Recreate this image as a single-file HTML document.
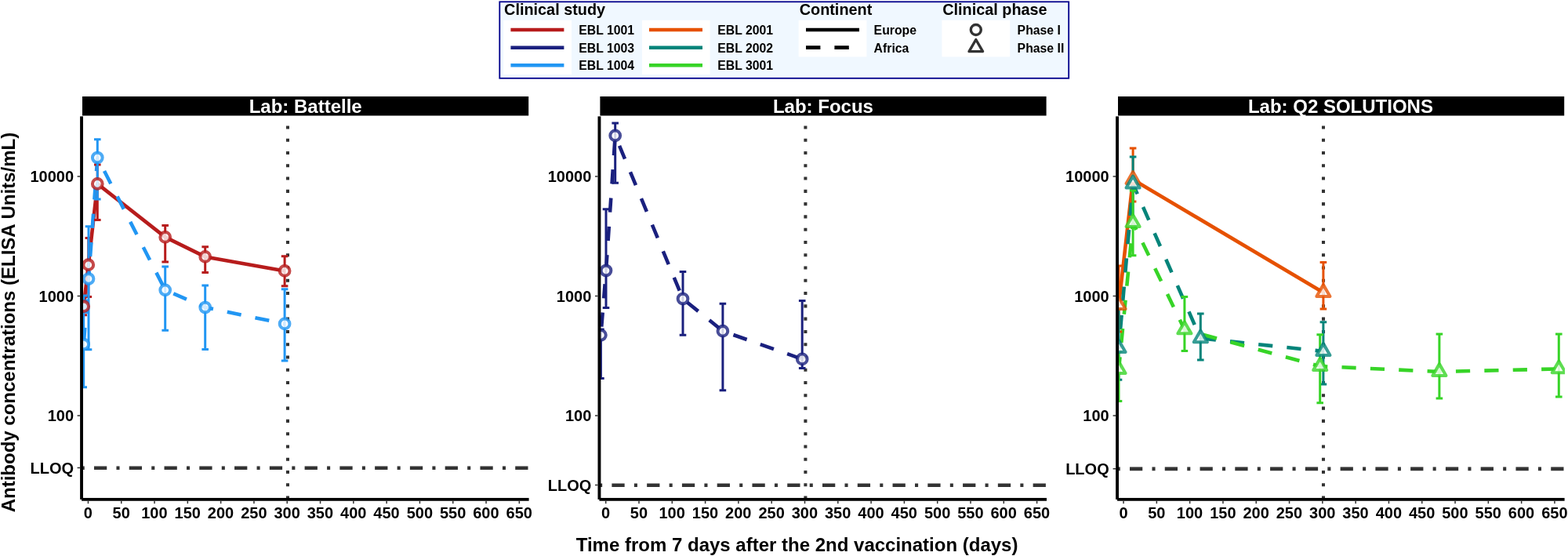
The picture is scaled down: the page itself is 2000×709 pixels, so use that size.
<!DOCTYPE html>
<html lang="en">
<head>
<meta charset="utf-8">
<title>Antibody concentrations by lab</title>
<style>
html,body{margin:0;padding:0;background:#fff;}
body{width:2000px;height:709px;overflow:hidden;}
svg{display:block;}
text{font-family:"Liberation Sans", Arial, Helvetica, sans-serif;font-weight:bold;fill:#000;}
.tick{font-size:20px;}
.title{font-size:24px;}
.strip{font-size:24px;fill:#fff;}
.lt{font-size:19.85px;}
.ll{font-size:15.8px;}
</style>
</head>
<body>
<svg width="2000" height="709" viewBox="0 0 2000 709">
<rect x="0" y="0" width="2000" height="709" fill="#fff"/>
<defs>
<clipPath id="cp0"><rect x="103" y="148.4" width="572" height="488.9"/></clipPath>
<clipPath id="cp1"><rect x="763.4" y="148.4" width="572" height="488.9"/></clipPath>
<clipPath id="cp2"><rect x="1424" y="148.4" width="572" height="488.9"/></clipPath>
</defs>
<g id="legend">
<rect x="637.3" y="2.3" width="725.9" height="97.5" fill="#F0F8FF" stroke="#00008B" stroke-width="1.8"/>
<text class="lt" x="643.1" y="19.1">Clinical study</text>
<text class="lt" x="1019.7" y="19.1">Continent</text>
<text class="lt" x="1202.2" y="19.1">Clinical phase</text>
<rect x="642.2" y="25.8" width="86.8" height="69.3" fill="#fff"/>
<rect x="819" y="25.8" width="86.6" height="69.3" fill="#fff"/>
<rect x="1018.6" y="25.8" width="86.8" height="46.6" fill="#fff"/>
<rect x="1201.4" y="25.8" width="86.8" height="46.6" fill="#fff"/>
<line x1="651.4" y1="38" x2="719.4" y2="38" stroke="#B71C1C" stroke-width="4.6"/>
<text class="ll" x="738.2" y="43.9">EBL 1001</text>
<line x1="651.4" y1="60.7" x2="719.4" y2="60.7" stroke="#1A207E" stroke-width="4.6"/>
<text class="ll" x="738.2" y="66.6">EBL 1003</text>
<line x1="651.4" y1="83.2" x2="719.4" y2="83.2" stroke="#2196F3" stroke-width="4.6"/>
<text class="ll" x="738.2" y="89.1">EBL 1004</text>
<line x1="828" y1="38" x2="896" y2="38" stroke="#E65100" stroke-width="4.6"/>
<text class="ll" x="915.2" y="43.9">EBL 2001</text>
<line x1="828" y1="60.7" x2="896" y2="60.7" stroke="#04847A" stroke-width="4.6"/>
<text class="ll" x="915.2" y="66.6">EBL 2002</text>
<line x1="828" y1="83.2" x2="896" y2="83.2" stroke="#37D427" stroke-width="4.6"/>
<text class="ll" x="915.2" y="89.1">EBL 3001</text>
<line x1="1028" y1="38" x2="1096" y2="38" stroke="#000" stroke-width="4.6"/>
<line x1="1028" y1="60.6" x2="1096" y2="60.6" stroke="#000" stroke-width="4.6" stroke-dasharray="18.4 18"/>
<text class="ll" x="1114.6" y="43.9">Europe</text>
<text class="ll" x="1114.6" y="66.6">Africa</text>
<circle cx="1244.8" cy="38" r="6.5" fill="#fff" stroke="#333" stroke-width="3.4"/>
<path d="M1244.8 50.49 L1253.55 65.65 L1236.05 65.65 Z" fill="#fff" stroke="#333" stroke-width="3.4" stroke-linejoin="round"/>
<text class="ll" x="1297.6" y="43.9">Phase I</text>
<text class="ll" x="1297.6" y="66.6">Phase II</text>
</g>
<g id="panel1">
<rect x="105" y="123" width="569.2" height="24.5" fill="#000"/>
<text class="strip" x="389.7" y="144.2" text-anchor="middle">Lab: Battelle</text>
<g clip-path="url(#cp0)">
<line x1="367" y1="636.6" x2="367" y2="148.4" stroke="#333" stroke-width="4.07" stroke-dasharray="4.07 12.21"/>
<line x1="103.7" y1="596.8" x2="675" y2="596.8" stroke="#333" stroke-width="4.57" stroke-dasharray="4.07 12.21 16.28 12.21"/>
<path d="M106.7 390.7 L112.8 337.7 L124.3 234.4 L210.7 302.4 L261.7 327.4 L363.1 345.4" fill="none" stroke="#B71C1C" stroke-width="4.6" stroke-linejoin="round"/>
<g fill="none" stroke="#2196F3" stroke-width="4.6" stroke-dasharray="18.2 18.2">
<path d="M106.7 439 L113 355.5" stroke-dashoffset="33.4"/>
<path d="M113 355.5 L124.3 201" stroke-dashoffset="7.94"/>
<path d="M124.3 201 L210.7 369.8" stroke-dashoffset="17.25"/>
<path d="M210.7 369.8 L261.7 392" stroke-dashoffset="24.88"/>
<path d="M261.7 392 L363.1 412.9" stroke-dashoffset="7.7"/>
</g>
<path d="M102.4 378.7H111M106.7 378.7V401.7M102.4 401.7H111M108.5 303.4H117.1M112.8 303.4V378.5M108.5 378.5H117.1M120 210H128.6M124.3 210V280.4M120 280.4H128.6M206.4 287.4H215M210.7 287.4V334M206.4 334H215M257.4 314.8H266M261.7 314.8V347.6M257.4 347.6H266M358.8 326.8H367.4M363.1 326.8V364.8M358.8 364.8H367.4" fill="none" stroke="#B71C1C" stroke-width="3"/>
<path d="M102.4 377H111M106.7 377V493.8M102.4 493.8H111M108.7 288.8H117.3M113 288.8V445.8M108.7 445.8H117.3M120 177.8H128.6M124.3 177.8V254M120 254H128.6M206.4 340H215M210.7 340V421.2M206.4 421.2H215M257.4 364H266M261.7 364V445.4M257.4 445.4H266M358.8 368.8H367.4M363.1 368.8V460M358.8 460H367.4" fill="none" stroke="#2196F3" stroke-width="3"/>
<g fill="#fff" fill-opacity="0.8" stroke="#B71C1C" stroke-opacity="0.8" stroke-width="4.05" stroke-linejoin="round">
<circle cx="106.7" cy="390.7" r="6.35"/>
<circle cx="112.8" cy="337.7" r="6.35"/>
<circle cx="124.3" cy="234.4" r="6.35"/>
<circle cx="210.7" cy="302.4" r="6.35"/>
<circle cx="261.7" cy="327.4" r="6.35"/>
<circle cx="363.1" cy="345.4" r="6.35"/>
</g>
<g fill="#fff" fill-opacity="0.8" stroke="#2196F3" stroke-opacity="0.8" stroke-width="4.05" stroke-linejoin="round">
<circle cx="106.7" cy="439" r="6.35"/>
<circle cx="113" cy="355.5" r="6.35"/>
<circle cx="124.3" cy="201" r="6.35"/>
<circle cx="210.7" cy="369.8" r="6.35"/>
<circle cx="261.7" cy="392" r="6.35"/>
<circle cx="363.1" cy="412.9" r="6.35"/>
</g>
</g>
<rect x="102.1" y="148.4" width="3.9" height="488.45" fill="#000"/>
<rect x="104.05" y="634.95" width="570.55" height="3.8" fill="#000"/>
<path d="M98.6 225H102.1M98.6 377.5H102.1M98.6 530H102.1M98.6 596.6H102.1M112.45 638.75V642.35M154.75 638.75V642.35M197.05 638.75V642.35M239.35 638.75V642.35M281.65 638.75V642.35M323.95 638.75V642.35M366.25 638.75V642.35M408.55 638.75V642.35M450.85 638.75V642.35M493.15 638.75V642.35M535.45 638.75V642.35M577.75 638.75V642.35M620.05 638.75V642.35M662.35 638.75V642.35" fill="none" stroke="#333" stroke-width="1.5"/>
<text class="tick" x="94.1" y="232" text-anchor="end">10000</text>
<text class="tick" x="94.1" y="384.5" text-anchor="end">1000</text>
<text class="tick" x="94.1" y="537" text-anchor="end">100</text>
<text class="tick" x="94.1" y="603.6" text-anchor="end">LLOQ</text>
<text class="tick" x="112.35" y="661.4" text-anchor="middle">0</text>
<text class="tick" x="154.65" y="661.4" text-anchor="middle">50</text>
<text class="tick" x="196.95" y="661.4" text-anchor="middle">100</text>
<text class="tick" x="239.25" y="661.4" text-anchor="middle">150</text>
<text class="tick" x="281.55" y="661.4" text-anchor="middle">200</text>
<text class="tick" x="323.85" y="661.4" text-anchor="middle">250</text>
<text class="tick" x="366.15" y="661.4" text-anchor="middle">300</text>
<text class="tick" x="408.45" y="661.4" text-anchor="middle">350</text>
<text class="tick" x="450.75" y="661.4" text-anchor="middle">400</text>
<text class="tick" x="493.05" y="661.4" text-anchor="middle">450</text>
<text class="tick" x="535.35" y="661.4" text-anchor="middle">500</text>
<text class="tick" x="577.65" y="661.4" text-anchor="middle">550</text>
<text class="tick" x="619.95" y="661.4" text-anchor="middle">600</text>
<text class="tick" x="662.25" y="661.4" text-anchor="middle">650</text>
</g>
<g id="panel2">
<rect x="765.4" y="123" width="569.2" height="24.5" fill="#000"/>
<text class="strip" x="1049.95" y="144.2" text-anchor="middle">Lab: Focus</text>
<g clip-path="url(#cp1)">
<line x1="1027.4" y1="636.6" x2="1027.4" y2="148.4" stroke="#333" stroke-width="4.07" stroke-dasharray="4.07 12.21"/>
<line x1="764.1" y1="618.8" x2="1335.4" y2="618.8" stroke="#333" stroke-width="4.57" stroke-dasharray="4.07 12.21 16.28 12.21"/>
<g fill="none" stroke="#1A207E" stroke-width="4.6" stroke-dasharray="18.2 18.2">
<path d="M766.4 427.3 L773 345" stroke-dashoffset="25.7"/>
<path d="M773 345 L784.7 172.9" stroke-dashoffset="34.71"/>
<path d="M784.7 172.9 L871 381" stroke-dashoffset="22.46"/>
<path d="M871 381 L921.9 422.2" stroke-dashoffset="29.35"/>
<path d="M921.9 422.2 L1023.2 457.9" stroke-dashoffset="22.03"/>
</g>
<path d="M762.1 420H770.7M766.4 420V482.4M762.1 482.4H770.7M768.7 266.8H777.3M773 266.8V392.4M768.7 392.4H777.3M780.4 157H789M784.7 157V233.2M780.4 233.2H789M866.7 346.4H875.3M871 346.4V427.3M866.7 427.3H875.3M917.6 387.3H926.2M921.9 387.3V497.7M917.6 497.7H926.2M1018.9 383.4H1027.5M1023.2 383.4V469.5M1018.9 469.5H1027.5" fill="none" stroke="#1A207E" stroke-width="3"/>
<g fill="#fff" fill-opacity="0.8" stroke="#1A207E" stroke-opacity="0.8" stroke-width="4.05" stroke-linejoin="round">
<circle cx="766.4" cy="427.3" r="6.35"/>
<circle cx="773" cy="345" r="6.35"/>
<circle cx="784.7" cy="172.9" r="6.35"/>
<circle cx="871" cy="381" r="6.35"/>
<circle cx="921.9" cy="422.2" r="6.35"/>
<circle cx="1023.2" cy="457.9" r="6.35"/>
</g>
</g>
<rect x="762.5" y="148.4" width="3.9" height="488.45" fill="#000"/>
<rect x="764.45" y="634.95" width="570.55" height="3.8" fill="#000"/>
<path d="M759 225H762.5M759 377.5H762.5M759 530H762.5M759 618.6H762.5M772.7 638.75V642.35M815 638.75V642.35M857.3 638.75V642.35M899.6 638.75V642.35M941.9 638.75V642.35M984.2 638.75V642.35M1026.5 638.75V642.35M1068.8 638.75V642.35M1111.1 638.75V642.35M1153.4 638.75V642.35M1195.7 638.75V642.35M1238 638.75V642.35M1280.3 638.75V642.35M1322.6 638.75V642.35" fill="none" stroke="#333" stroke-width="1.5"/>
<text class="tick" x="754.35" y="232" text-anchor="end">10000</text>
<text class="tick" x="754.35" y="384.5" text-anchor="end">1000</text>
<text class="tick" x="754.35" y="537" text-anchor="end">100</text>
<text class="tick" x="754.35" y="625.6" text-anchor="end">LLOQ</text>
<text class="tick" x="772.6" y="661.4" text-anchor="middle">0</text>
<text class="tick" x="814.9" y="661.4" text-anchor="middle">50</text>
<text class="tick" x="857.2" y="661.4" text-anchor="middle">100</text>
<text class="tick" x="899.5" y="661.4" text-anchor="middle">150</text>
<text class="tick" x="941.8" y="661.4" text-anchor="middle">200</text>
<text class="tick" x="984.1" y="661.4" text-anchor="middle">250</text>
<text class="tick" x="1026.4" y="661.4" text-anchor="middle">300</text>
<text class="tick" x="1068.7" y="661.4" text-anchor="middle">350</text>
<text class="tick" x="1111" y="661.4" text-anchor="middle">400</text>
<text class="tick" x="1153.3" y="661.4" text-anchor="middle">450</text>
<text class="tick" x="1195.6" y="661.4" text-anchor="middle">500</text>
<text class="tick" x="1237.9" y="661.4" text-anchor="middle">550</text>
<text class="tick" x="1280.2" y="661.4" text-anchor="middle">600</text>
<text class="tick" x="1322.5" y="661.4" text-anchor="middle">650</text>
</g>
<g id="panel3">
<rect x="1426" y="123" width="569.2" height="24.5" fill="#000"/>
<text class="strip" x="1709.9" y="144.2" text-anchor="middle">Lab: Q2 SOLUTIONS</text>
<g clip-path="url(#cp2)">
<line x1="1688" y1="636.6" x2="1688" y2="148.4" stroke="#333" stroke-width="4.07" stroke-dasharray="4.07 12.21"/>
<line x1="1424.7" y1="597.9" x2="1996" y2="597.9" stroke="#333" stroke-width="4.57" stroke-dasharray="4.07 12.21 16.28 12.21"/>
<path d="M1427 389 L1445.1 229 L1687.9 373" fill="none" stroke="#E65100" stroke-width="4.6" stroke-linejoin="round"/>
<g fill="none" stroke="#04847A" stroke-width="4.6" stroke-dasharray="18.2 18.2">
<path d="M1427 444 L1445.1 234.5" stroke-dashoffset="12.3"/>
<path d="M1445.1 234.5 L1531.3 431.4" stroke-dashoffset="4.18"/>
<path d="M1531.3 431.4 L1687.9 448" stroke-dashoffset="34.92"/>
</g>
<g fill="none" stroke="#37D427" stroke-width="4.6" stroke-dasharray="18.2 18.2">
<path d="M1427 471 L1445.1 284" stroke-dashoffset="2.3"/>
<path d="M1445.1 284 L1510.9 420.4" stroke-dashoffset="8.17"/>
<path d="M1510.9 420.4 L1683.7 467" stroke-dashoffset="12.02"/>
<path d="M1683.7 467 L1835.9 474" stroke-dashoffset="8.59"/>
<path d="M1835.9 474 L1988.3 470.4" stroke-dashoffset="15.35"/>
</g>
<path d="M1422.7 339H1431.3M1427 339V423M1422.7 423H1431.3M1440.8 189H1449.4M1445.1 189V257M1440.8 257H1449.4M1683.6 334.4H1692.2M1687.9 334.4V394M1683.6 394H1692.2" fill="none" stroke="#E65100" stroke-width="3"/>
<path d="M1422.7 393.4H1431.3M1427 393.4V484.2M1422.7 484.2H1431.3M1440.8 200H1449.4M1445.1 200V288M1440.8 288H1449.4M1527 400H1535.6M1531.3 400V459M1527 459H1535.6M1683.6 410.8H1692.2M1687.9 410.8V490M1683.6 490H1692.2" fill="none" stroke="#04847A" stroke-width="3"/>
<path d="M1422.7 448H1431.3M1427 448V511.4M1422.7 511.4H1431.3M1440.8 243H1449.4M1445.1 243V325.8M1440.8 325.8H1449.4M1506.6 378.4H1515.2M1510.9 378.4V447.4M1506.6 447.4H1515.2M1679.4 426.8H1688M1683.7 426.8V513.8M1679.4 513.8H1688M1831.6 426H1840.2M1835.9 426V507.9M1831.6 507.9H1840.2M1984 426H1992.6M1988.3 426V505.9M1984 505.9H1992.6" fill="none" stroke="#37D427" stroke-width="3"/>
<g fill="#fff" fill-opacity="0.8" stroke="#E65100" stroke-opacity="0.8" stroke-width="4.05" stroke-linejoin="round">
<path d="M1427 379.13 L1435.55 393.94 L1418.45 393.94 Z"/>
<path d="M1445.1 219.13 L1453.65 233.94 L1436.55 233.94 Z"/>
<path d="M1687.9 363.13 L1696.45 377.94 L1679.35 377.94 Z"/>
</g>
<g fill="#fff" fill-opacity="0.8" stroke="#04847A" stroke-opacity="0.8" stroke-width="4.05" stroke-linejoin="round">
<path d="M1427 434.13 L1435.55 448.94 L1418.45 448.94 Z"/>
<path d="M1445.1 224.63 L1453.65 239.44 L1436.55 239.44 Z"/>
<path d="M1531.3 421.53 L1539.85 436.34 L1522.75 436.34 Z"/>
<path d="M1687.9 438.13 L1696.45 452.94 L1679.35 452.94 Z"/>
</g>
<g fill="#fff" fill-opacity="0.8" stroke="#37D427" stroke-opacity="0.8" stroke-width="4.05" stroke-linejoin="round">
<path d="M1427 461.13 L1435.55 475.94 L1418.45 475.94 Z"/>
<path d="M1445.1 274.13 L1453.65 288.94 L1436.55 288.94 Z"/>
<path d="M1510.9 410.53 L1519.45 425.34 L1502.35 425.34 Z"/>
<path d="M1683.7 457.13 L1692.25 471.94 L1675.15 471.94 Z"/>
<path d="M1835.9 464.13 L1844.45 478.94 L1827.35 478.94 Z"/>
<path d="M1988.3 460.53 L1996.85 475.34 L1979.75 475.34 Z"/>
</g>
</g>
<rect x="1423.1" y="148.4" width="3.9" height="488.45" fill="#000"/>
<rect x="1425.05" y="634.95" width="570.55" height="3.8" fill="#000"/>
<path d="M1419.6 225H1423.1M1419.6 377.5H1423.1M1419.6 530H1423.1M1419.6 597.7H1423.1M1433.05 638.75V642.35M1475.35 638.75V642.35M1517.65 638.75V642.35M1559.95 638.75V642.35M1602.25 638.75V642.35M1644.55 638.75V642.35M1686.85 638.75V642.35M1729.15 638.75V642.35M1771.45 638.75V642.35M1813.75 638.75V642.35M1856.05 638.75V642.35M1898.35 638.75V642.35M1940.65 638.75V642.35M1982.95 638.75V642.35" fill="none" stroke="#333" stroke-width="1.5"/>
<text class="tick" x="1414.7" y="232" text-anchor="end">10000</text>
<text class="tick" x="1414.7" y="384.5" text-anchor="end">1000</text>
<text class="tick" x="1414.7" y="537" text-anchor="end">100</text>
<text class="tick" x="1414.7" y="604.7" text-anchor="end">LLOQ</text>
<text class="tick" x="1432.95" y="661.4" text-anchor="middle">0</text>
<text class="tick" x="1475.25" y="661.4" text-anchor="middle">50</text>
<text class="tick" x="1517.55" y="661.4" text-anchor="middle">100</text>
<text class="tick" x="1559.85" y="661.4" text-anchor="middle">150</text>
<text class="tick" x="1602.15" y="661.4" text-anchor="middle">200</text>
<text class="tick" x="1644.45" y="661.4" text-anchor="middle">250</text>
<text class="tick" x="1686.75" y="661.4" text-anchor="middle">300</text>
<text class="tick" x="1729.05" y="661.4" text-anchor="middle">350</text>
<text class="tick" x="1771.35" y="661.4" text-anchor="middle">400</text>
<text class="tick" x="1813.65" y="661.4" text-anchor="middle">450</text>
<text class="tick" x="1855.95" y="661.4" text-anchor="middle">500</text>
<text class="tick" x="1898.25" y="661.4" text-anchor="middle">550</text>
<text class="tick" x="1940.55" y="661.4" text-anchor="middle">600</text>
<text class="tick" x="1982.85" y="661.4" text-anchor="middle">650</text>
</g>
<text class="title" x="1016.6" y="703.1" text-anchor="middle">Time from 7 days after the 2nd vaccination (days)</text>
<text class="title" transform="translate(19.3 411.1) rotate(-90)" text-anchor="middle">Antibody concentrations (ELISA Units/mL)</text>
</svg>
</body>
</html>
